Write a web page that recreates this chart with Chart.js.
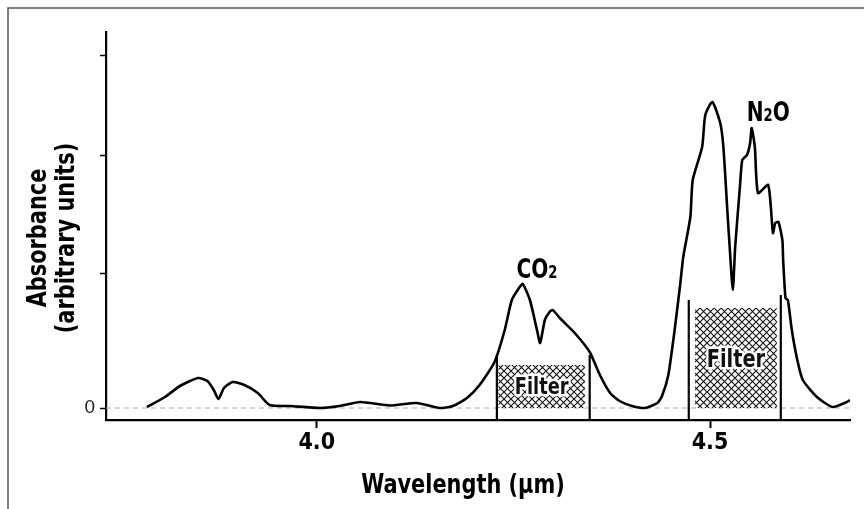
<!DOCTYPE html>
<html>
<head>
<meta charset="utf-8">
<script src="https://cdn.jsdelivr.net/npm/chart.js@4.4.1/dist/chart.umd.min.js"></script>
<style>
  html, body { margin: 0; padding: 0; background: #fff; }
  #wrap { width: 864px; height: 509px; position: relative; }
</style>
</head>
<body>
<div id="wrap"><canvas id="spectrum" width="864" height="509"></canvas></div>
<script>
// spectrum (wavelength in µm, absorbance in arbitrary units)
const wavelength = [
  3.784, 3.807, 3.826, 3.849, 3.861, 3.869, 3.875, 3.882, 3.893, 3.908, 3.925, 3.940, 3.966,
  4.004, 4.029, 4.055, 4.093, 4.127, 4.156,
  4.173, 4.191, 4.207, 4.226, 4.239, 4.248, 4.258, 4.262, 4.271, 4.280, 4.284, 4.290, 4.296,
  4.300, 4.309, 4.328, 4.347, 4.360, 4.373, 4.385, 4.401, 4.417,
  4.433, 4.439, 4.447, 4.455, 4.462, 4.466, 4.475, 4.478, 4.490, 4.494, 4.503, 4.513, 4.517,
  4.522, 4.525, 4.529, 4.532, 4.538, 4.541, 4.547, 4.551, 4.553, 4.557, 4.561, 4.574, 4.580,
  4.583, 4.587, 4.592, 4.593, 4.596, 4.599, 4.604, 4.611, 4.618, 4.636, 4.656, 4.674, 4.678
];
const absorbance = [
  0.01, 0.11, 0.22, 0.30, 0.27, 0.18, 0.09, 0.20, 0.26, 0.23, 0.15, 0.03, 0.02,
  0.00, 0.02, 0.06, 0.025, 0.05, 0.00,
  0.02, 0.10, 0.23, 0.46, 0.78, 1.08, 1.21, 1.24, 1.08, 0.78, 0.65, 0.88, 0.96,
  0.98, 0.90, 0.75, 0.56, 0.33, 0.15, 0.07, 0.02, 0.00,
  0.05, 0.12, 0.33, 0.78, 1.23, 1.51, 1.91, 2.28, 2.61, 2.93, 3.06, 2.85, 2.61,
  1.98, 1.61, 1.18, 1.61, 2.21, 2.48, 2.53, 2.65, 2.80, 2.61, 2.15, 2.23, 1.75,
  1.85, 1.86, 1.68, 1.48, 1.10, 1.08, 0.78, 0.48, 0.28, 0.11, 0.01, 0.06, 0.08
];
const xTicks = [4.0, 4.5];
const yTicks = [0, 1.35, 2.53, 3.53];
const xRange = [3.732, 4.678];
const yRange = [-0.12, 3.76];

// filter passbands
const filterEdges = [[4.229, 4.347], [4.473, 4.590]];
const filterEdgeTops = [[0.53, 0.53], [1.08, 1.13]];
const filterBoxX = [[4.231, 4.341], [4.481, 4.585]];
const filterBoxTop = [0.43, 1.00];
const filterTextSize = [23, 25];

// gas labels: main text, subscript, trailing text
const gasLabels = [['CO', '2', ''], ['N', '2', 'O']];
const gasLabelPos = [[4.280, 1.30], [4.574, 2.87]];

const FONT = '"Liberation Sans Narrow", "DejaVu Sans Condensed", "DejaVu Sans", sans-serif';
const SQUEEZE = 0.86; // the figure uses a condensed face

function hatchPattern(ctx) {
    const c = document.createElement('canvas');
    c.width = 7; c.height = 7;
    const p = c.getContext('2d');
    p.fillStyle = '#fff';
    p.fillRect(0, 0, 7, 7);
    p.strokeStyle = '#111';
    p.lineWidth = 1.1;
    p.beginPath();
    p.moveTo(0, 0); p.lineTo(7, 7);
    p.moveTo(7, 0); p.lineTo(0, 7);
    p.stroke();
    return ctx.createPattern(c, 'repeat');
}

// draw text centred at (x, y), squeezed horizontally
function narrowText(ctx, text, x, y, outline) {
    ctx.save();
    ctx.translate(x, y);
    ctx.scale(SQUEEZE, 1);
    ctx.textAlign = 'center';
    ctx.textBaseline = 'middle';
    if (outline) {
        ctx.lineJoin = 'round';
        ctx.lineWidth = 5;
        ctx.strokeStyle = '#fff';
        ctx.strokeText(text, 0, 0);
    }
    ctx.fillText(text, 0, 0);
    ctx.restore();
}

const decorations = {
    id: 'decorations',
    beforeDraw(chart) {
        const ctx = chart.ctx;
        ctx.save();
        // scanned page frame
        ctx.strokeStyle = '#555';
        ctx.lineWidth = 1.5;
        ctx.beginPath();
        ctx.moveTo(8, 509); ctx.lineTo(8, 8); ctx.lineTo(864, 8);
        ctx.stroke();
        ctx.restore();
    },
    afterDatasetsDraw(chart) {
        const ctx = chart.ctx;
        const xs = chart.scales.x, ys = chart.scales.y;
        const pattern = hatchPattern(ctx);
        ctx.save();
        filterEdges.forEach((edges, i) => {
            const bx0 = xs.getPixelForValue(filterBoxX[i][0]);
            const bx1 = xs.getPixelForValue(filterBoxX[i][1]);
            const by0 = ys.getPixelForValue(filterBoxTop[i]);
            const by1 = ys.getPixelForValue(0);
            ctx.fillStyle = pattern;
            ctx.fillRect(bx0, by0, bx1 - bx0, by1 - by0);

            ctx.strokeStyle = '#000';
            ctx.lineWidth = 2.2;
            edges.forEach((w, k) => {
                const px = xs.getPixelForValue(w);
                ctx.beginPath();
                ctx.moveTo(px, ys.getPixelForValue(yRange[0]));
                ctx.lineTo(px, ys.getPixelForValue(filterEdgeTops[i][k]));
                ctx.stroke();
            });

            ctx.font = 'bold ' + filterTextSize[i] + 'px ' + FONT;
            ctx.fillStyle = '#111';
            narrowText(ctx, 'Filter', (bx0 + bx1) / 2, (by0 + by1) / 2 + 2, true);
        });

        // gas labels with subscript
        gasLabels.forEach((parts, i) => {
            const big = 'bold 26px ' + FONT, small = 'bold 17px ' + FONT;
            ctx.font = big; const w0 = ctx.measureText(parts[0]).width * SQUEEZE;
            const w2 = ctx.measureText(parts[2]).width * SQUEEZE;
            ctx.font = small; const w1 = ctx.measureText(parts[1]).width * SQUEEZE;
            let x = xs.getPixelForValue(gasLabelPos[i][0]) - (w0 + w1 + w2) / 2;
            const y = ys.getPixelForValue(gasLabelPos[i][1]);
            ctx.fillStyle = '#000';
            ctx.save();
            ctx.translate(x, y);
            ctx.scale(SQUEEZE, 1);
            ctx.textAlign = 'left';
            ctx.textBaseline = 'alphabetic';
            let cx = 0;
            ctx.font = big; ctx.fillText(parts[0], cx, 0); cx += w0 / SQUEEZE;
            ctx.font = small; ctx.fillText(parts[1], cx, 0); cx += w1 / SQUEEZE;
            ctx.font = big; ctx.fillText(parts[2], cx, 0);
            ctx.restore();
        });

        // axis titles
        ctx.fillStyle = '#000';
        ctx.font = 'bold 27px ' + FONT;
        narrowText(ctx, 'Wavelength (\u00b5m)', 463, 486);
        ctx.translate(52, 238);
        ctx.rotate(-Math.PI / 2);
        narrowText(ctx, 'Absorbance', 0, -13);
        narrowText(ctx, '(arbitrary units)', 0, 15);
        ctx.restore();
    }
};

new Chart(document.getElementById('spectrum'), {
    type: 'line',
    data: {
        datasets: [
            {
                data: wavelength.map((w, i) => ({ x: w, y: absorbance[i] })),
                borderColor: '#000',
                borderWidth: 2.6,
                pointRadius: 0,
                tension: 0.2,
                fill: false
            },
            {
                // zero reference line
                data: [{ x: xRange[0], y: 0 }, { x: xRange[1], y: 0 }],
                borderColor: '#aaa',
                borderWidth: 1,
                borderDash: [5, 4],
                pointRadius: 0
            }
        ]
    },
    options: {
        responsive: false,
        animation: false,
        layout: { padding: { top: 32, right: 14, left: 0, bottom: 0 } },
        plugins: { legend: { display: false }, tooltip: { enabled: false } },
        scales: {
            x: {
                type: 'linear',
                min: xRange[0],
                max: xRange[1],
                afterBuildTicks: s => { s.ticks = xTicks.map(v => ({ value: v })); },
                afterFit: s => { s.height = 89; },
                grid: { drawOnChartArea: false, tickLength: 8, color: '#000', tickWidth: 2 },
                border: { color: '#000', width: 2.2 },
                ticks: {
                    color: '#000',
                    padding: 1,
                    maxRotation: 0,
                    font: { family: FONT, size: 23, weight: 'bold' },
                    callback: v => v.toFixed(1)
                }
            },
            y: {
                type: 'linear',
                min: yRange[0],
                max: yRange[1],
                afterBuildTicks: s => { s.ticks = yTicks.map(v => ({ value: v })); },
                afterFit: s => { s.width = 106; },
                grid: { drawOnChartArea: false, tickLength: 6, color: '#000', tickWidth: 1.5 },
                border: { color: '#000', width: 2.2 },
                ticks: {
                    color: '#222',
                    padding: 5,
                    font: { family: '"Liberation Sans", sans-serif', size: 19 },
                    callback: v => (v === 0 ? '0' : '')
                }
            }
        }
    },
    plugins: [decorations]
});
</script>
</body>
</html>
